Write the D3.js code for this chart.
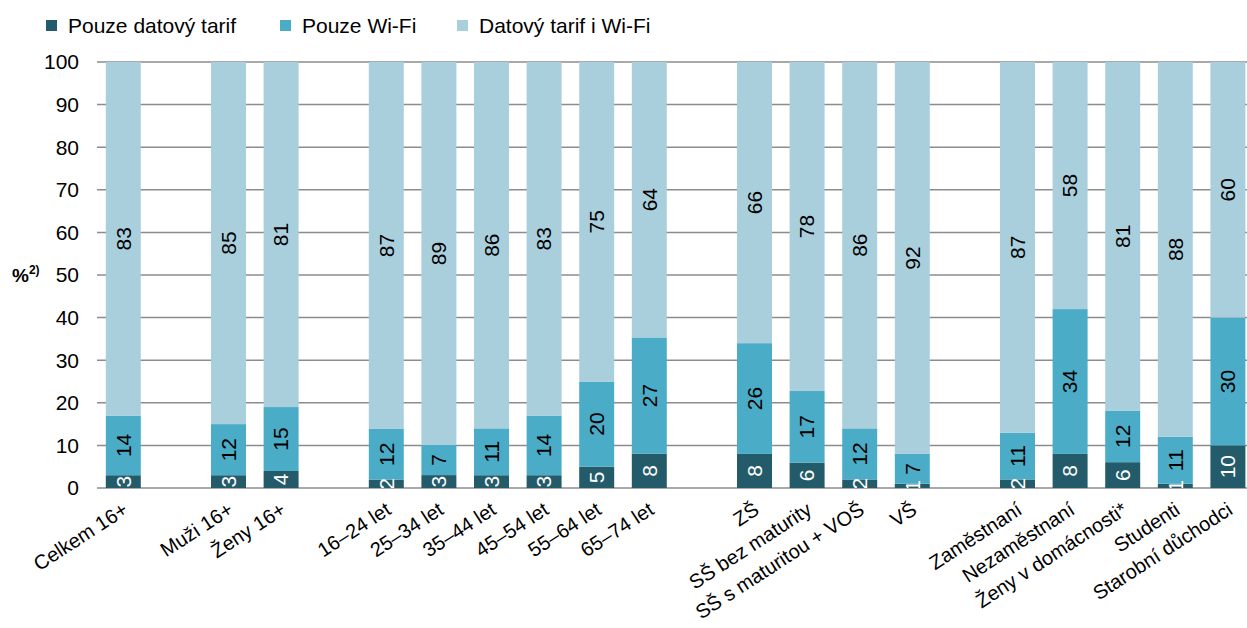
<!DOCTYPE html>
<html>
<head>
<meta charset="utf-8">
<script src="https://cdn.jsdelivr.net/npm/d3@7"></script>
<style>
  body { margin: 0; background: #fff; }
  svg { display: block; font-family: "Liberation Sans", Arial, sans-serif; }
</style>
</head>
<body>
<div id="chart"></div>
<script>
// kategorie (prazdne retezce = mezery mezi skupinami)
const categories = [
  "Celkem 16+", "", "Muži 16+", "Ženy 16+", " ",
  "16–24 let", "25–34 let", "35–44 let", "45–54 let", "55–64 let", "65–74 let", "  ",
  "ZŠ", "SŠ bez maturity", "SŠ s maturitou + VOŠ", "VŠ", "   ",
  "Zaměstnaní", "Nezaměstnaní", "Ženy v domácnosti*", "Studenti", "Starobní důchodci"
];
const labeled = categories.filter((d) => d.trim() !== "");

const pouzeData = [3, 3, 4, 2, 3, 3, 3, 5, 8, 8, 6, 2, 1, 2, 8, 6, 1, 10];
const pouzeWifi = [14, 12, 15, 12, 7, 11, 14, 20, 27, 26, 17, 12, 7, 11, 34, 12, 11, 30];
const obojí = [83, 85, 81, 87, 89, 86, 83, 75, 64, 66, 78, 86, 92, 87, 58, 81, 88, 60];

const seriesNames = ["Pouze datový tarif", "Pouze Wi-Fi", "Datový tarif i Wi-Fi"];
const colors = ["#245b6b", "#4aacc6", "#a9cfdd"];
const yTicks = [0, 10, 20, 30, 40, 50, 60, 70, 80, 90, 100];

const width = 1247, height = 628;
const margin = { top: 62, left: 97 };
const plotBottom = 488;
const fs = 21;

const svg = d3.select("#chart").append("svg")
  .attr("width", width).attr("height", height);

const x = d3.scaleBand().domain(categories)
  .range([margin.left, margin.left + 52.6 * categories.length])
  .paddingInner(0.335).paddingOuter(0.1675);
const y = d3.scaleLinear().domain([0, 100]).range([plotBottom, margin.top]);

// mrizka
svg.append("g").selectAll("line").data(yTicks).join("line")
  .attr("x1", margin.left).attr("x2", width)
  .attr("y1", (d) => y(d)).attr("y2", (d) => y(d))
  .attr("stroke", "#8c8c8c").attr("stroke-width", 1.5);

// osa y
svg.append("g").selectAll("text").data(yTicks).join("text")
  .attr("x", 79).attr("y", (d) => y(d)).attr("dy", "0.35em")
  .attr("text-anchor", "end").attr("font-size", fs).attr("fill", "#000")
  .text((d) => d);

const yl = svg.append("text").attr("x", 12).attr("y", y(50)).attr("dy", "0.35em")
  .attr("font-size", 19).attr("font-weight", "bold");
yl.append("tspan").text("%");
yl.append("tspan").attr("font-size", 12).attr("dy", "-0.6em").text("2)");

// data
const rows = labeled.map((c, i) => {
  const vals = [pouzeData[i], pouzeWifi[i], obojí[i]];
  const sum = d3.sum(vals);
  let acc = 0;
  return vals.map((v, k) => {
    const y0 = acc; acc += (v / sum) * 100;
    return { cat: c, k, v, y0, y1: acc };
  });
}).flat();

svg.append("clipPath").attr("id", "plot")
  .append("rect").attr("x", 0).attr("y", 0).attr("width", width).attr("height", plotBottom);

const bars = svg.append("g").attr("clip-path", "url(#plot)");
bars.selectAll("rect").data(rows).join("rect")
  .attr("x", (d) => x(d.cat)).attr("width", x.bandwidth())
  .attr("y", (d) => y(d.y1)).attr("height", (d) => y(d.y0) - y(d.y1))
  .attr("fill", (d) => colors[d.k]);

bars.selectAll("text").data(rows).join("text")
  .attr("transform", (d) => `translate(${x(d.cat) + x.bandwidth() / 2},${y((d.y0 + d.y1) / 2)}) rotate(-90)`)
  .attr("text-anchor", "middle").attr("dy", "0.35em")
  .attr("font-size", fs)
  .attr("fill", (d) => (d.k === 0 ? "#fff" : "#000"))
  .text((d) => d.v);

// popisky osy x
svg.append("g").selectAll("text").data(labeled).join("text")
  .attr("transform", (d) => `translate(${x(d) + x.bandwidth() / 2 + 6},${plotBottom + 25}) rotate(-33)`)
  .attr("text-anchor", "end").attr("font-size", 20).attr("fill", "#000")
  .text((d) => d);

// legenda
const legendX = [46, 280, 457];
const lg = svg.append("g").selectAll("g").data(seriesNames).join("g")
  .attr("transform", (d, i) => `translate(${legendX[i]},20)`);
lg.append("rect").attr("width", 11).attr("height", 11).attr("fill", (d, i) => colors[i]);
lg.append("text").attr("x", 22).attr("y", 5.5).attr("dy", "0.35em")
  .attr("font-size", fs).text((d) => d);
</script>
</body>
</html>
